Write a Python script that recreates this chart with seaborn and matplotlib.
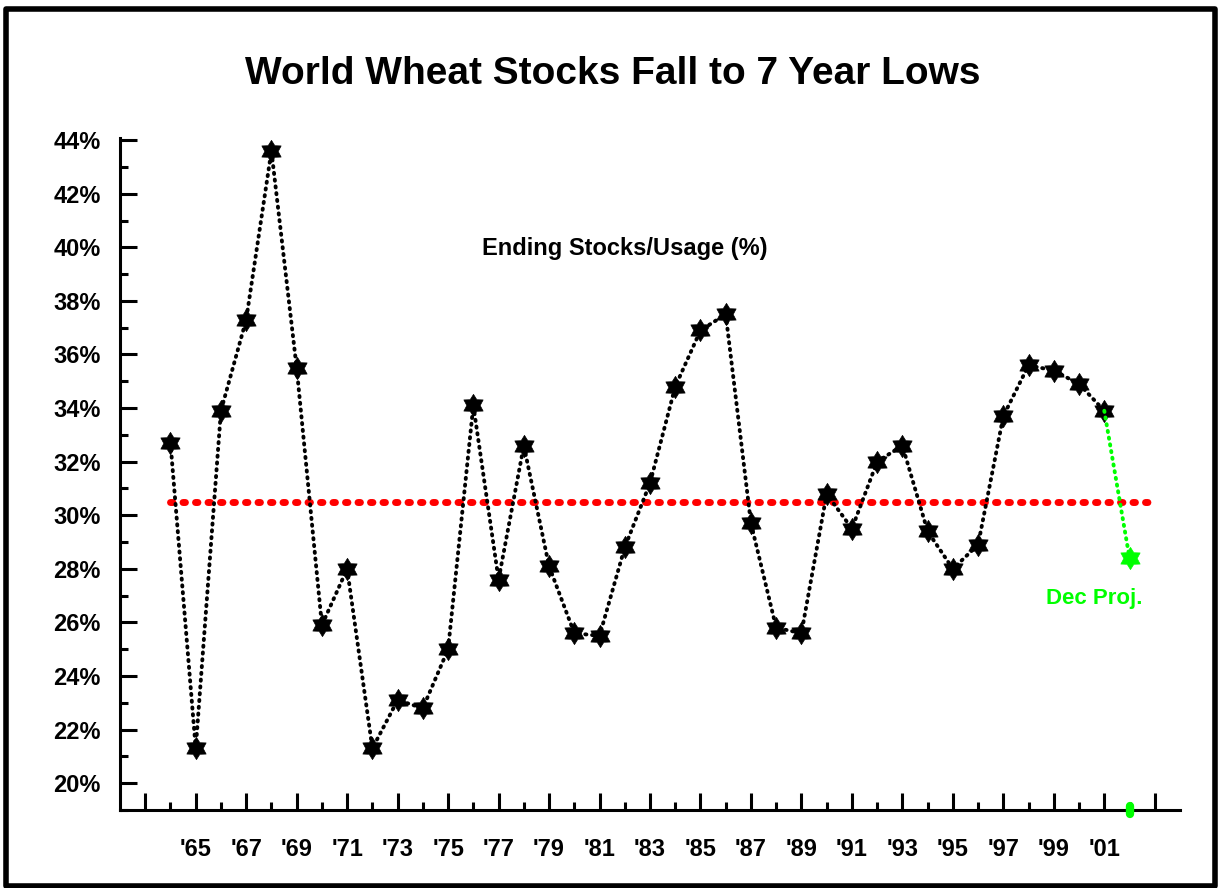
import numpy as np
import pandas as pd
import matplotlib
matplotlib.use("Agg")
import matplotlib.pyplot as plt
from matplotlib.patches import Rectangle
from matplotlib.path import Path
from matplotlib.ticker import MultipleLocator, FuncFormatter
import seaborn as sns

# Ending stocks / usage ratio for world wheat, 1964 - 2001, plus December projection
years = list(range(1964, 2002))
stocks_usage = [32.7, 21.3, 33.9, 37.3, 43.6, 35.5, 25.9, 28.0, 21.3, 23.1,
                22.8, 25.0, 34.1, 27.6, 32.6, 28.1, 25.6, 25.5, 28.8, 31.2,
                34.8, 36.9, 37.5, 29.7, 25.8, 25.6, 30.8, 29.5, 32.0, 32.6,
                29.4, 28.0, 28.9, 33.7, 35.6, 35.4, 34.9, 33.9]
proj_years = [2001, 2002]
proj_values = [33.9, 28.4]
avg_years = [1964, 2003]
avg_value = 30.5

sns.set_style("white")
plt.rcParams['font.family'] = ['Liberation Sans', 'DejaVu Sans']
plt.rcParams['font.weight'] = 'bold'
plt.rcParams['text.color'] = 'black'
plt.rcParams['xtick.color'] = 'black'
plt.rcParams['ytick.color'] = 'black'


def hexagram(inner=0.6):
    # six-pointed star, point upwards
    verts = []
    for k in range(6):
        a = np.pi / 2 + k * np.pi / 3
        verts.append((np.cos(a), np.sin(a)))
        b = a + np.pi / 6
        verts.append((inner * np.cos(b), inner * np.sin(b)))
    verts.append(verts[0])
    codes = [Path.MOVETO] + [Path.LINETO] * 11 + [Path.CLOSEPOLY]
    return Path(verts, codes)


STAR = hexagram()
GREEN = '#00ff00'

fig = plt.figure(figsize=(12.23, 8.88), dpi=100)
ax = fig.add_axes([120 / 1223, 1 - 810 / 888, 1060 / 1223, 672 / 888])

# long-run average line
sns.lineplot(x=avg_years, y=[avg_value] * len(avg_years), ax=ax, color='red',
             linewidth=5, linestyle=(0, (0.35, 1.45)), dash_capstyle='round')

# historical series
sns.lineplot(x=years, y=stocks_usage, ax=ax, color='black', linewidth=2.8,
             linestyle=(0, (0.3, 1.45)), dash_capstyle='round',
             marker=STAR, markersize=16, markerfacecolor='black',
             markeredgecolor='black', markeredgewidth=0.5)

# December projection
sns.lineplot(x=proj_years, y=proj_values, ax=ax, color=GREEN, linewidth=2.8,
             linestyle=(0, (0.3, 1.45)), dash_capstyle='round')
ax.plot(proj_years[-1:], proj_values[-1:], linestyle='none', marker=STAR,
        markersize=16, color=GREEN, markeredgewidth=0.5)

ax.set_xlim(1962, 2004)
ax.set_ylim(19, 44.08)

# green blip on the x axis under the projection year
ax.plot([proj_years[-1]] * 2, [18.86, 19.14], color=GREEN, linewidth=6,
        solid_capstyle='round', clip_on=False, zorder=5)

# axes styling
for side in ['top', 'right']:
    ax.spines[side].set_visible(False)
for side in ['left', 'bottom']:
    ax.spines[side].set_linewidth(2.2)
    ax.spines[side].set_color('black')

ax.yaxis.set_major_locator(MultipleLocator(2))
ax.yaxis.set_minor_locator(MultipleLocator(1))
ax.yaxis.set_major_formatter(FuncFormatter(lambda v, p: f"{v:.0f}%" if 20 <= v <= 44 else ""))

ax.set_xticks(list(range(1963, 2004, 2)))
ax.set_xticks(list(range(1964, 2004, 2)), minor=True)
xlabels = ["'" + str(y)[-2:] if 1965 <= y <= 2001 else "" for y in range(1963, 2004, 2)]
ax.set_xticklabels(xlabels)

ax.tick_params(axis='both', which='both', bottom=True, left=True, direction='in',
               width=2.2, color='black')
ax.tick_params(axis='both', which='major', length=12, labelsize=17)
ax.tick_params(axis='both', which='minor', length=6)
ax.tick_params(axis='x', which='major', pad=20)
ax.tick_params(axis='y', which='major', pad=14)
for lbl in ax.get_xticklabels() + ax.get_yticklabels():
    lbl.set_fontweight('bold')

ax.set_xlabel("")
ax.set_ylabel("")

ax.text(0.476, 0.836, "Ending Stocks/Usage (%)", transform=ax.transAxes,
        ha='center', va='center', fontsize=17, fontweight='bold')
ax.text(proj_years[-1] - 1.4, 26.9, "Dec Proj.", ha='center', va='center',
        fontsize=16, fontweight='bold', color=GREEN)

fig.text(613 / 1223, 1 - 74 / 888, "World Wheat Stocks Fall to 7 Year Lows",
         ha='center', va='center', fontsize=28, fontweight='bold')

# frame round the whole picture
fig.add_artist(Rectangle((6.3 / 1223, 2 / 888), 1209 / 1223, 877 / 888,
                         transform=fig.transFigure, fill=False,
                         edgecolor='black', linewidth=4, joinstyle='round'))

fig.savefig("out.png", dpi=100)
